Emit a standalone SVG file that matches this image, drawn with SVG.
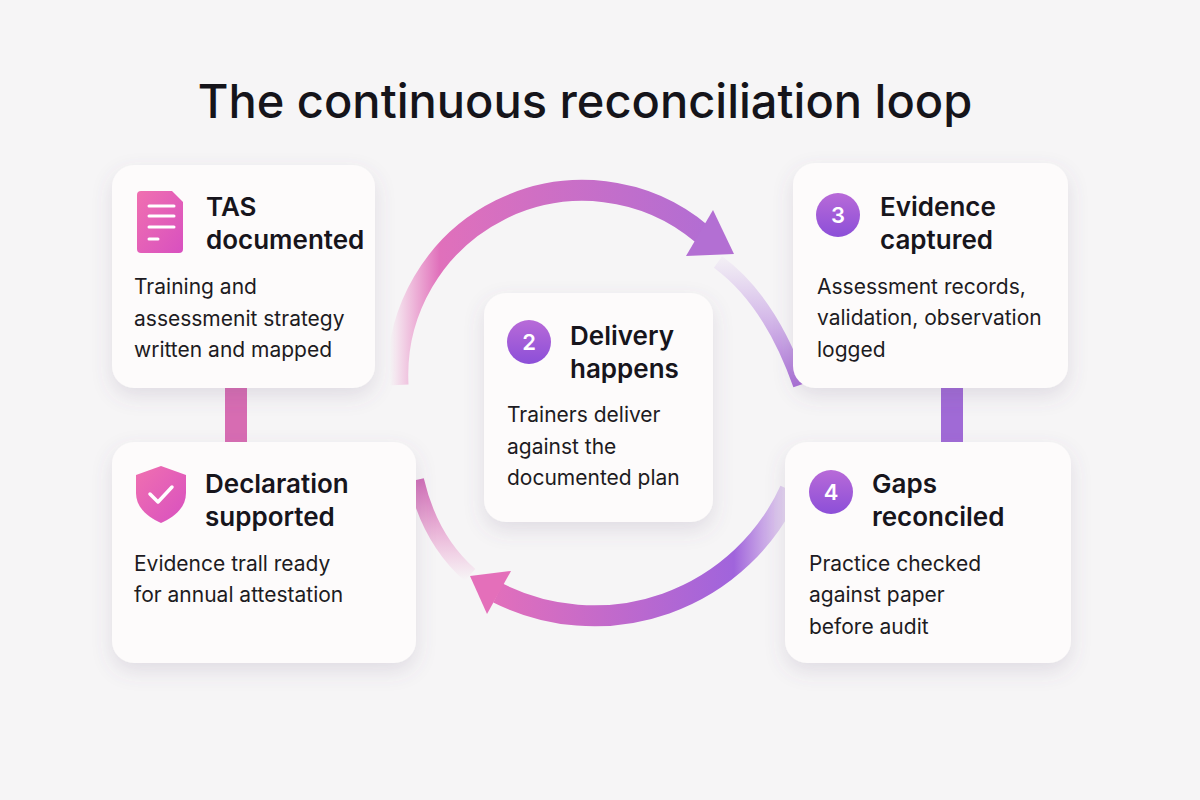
<svg xmlns="http://www.w3.org/2000/svg" width="1200" height="800" viewBox="0 0 1200 800">
<defs>
<style>
.card{fill:#fdfbfb;filter:url(#sh)}
.h{font-family:Inter,"Noto Sans",sans-serif;font-weight:600;font-size:26px;fill:#17151c}
.b{font-family:Inter,"Noto Sans",sans-serif;font-size:21px;fill:#1d1b22}
.n{font-family:Inter,"Noto Sans",sans-serif;font-weight:600;font-size:22px;fill:#fff;text-anchor:middle}
</style>
<filter id="sh" x="-20%" y="-20%" width="140%" height="150%"><feDropShadow dx="0" dy="8" stdDeviation="10" flood-color="#6a5a80" flood-opacity="0.16"/></filter>
<linearGradient id="gTop" x1="390" y1="0" x2="720" y2="0" gradientUnits="userSpaceOnUse"><stop offset="0" stop-color="#e870b8" stop-opacity="0"/><stop offset="0.15" stop-color="#e070bb"/><stop offset="1" stop-color="#b06dd4"/></linearGradient>
<linearGradient id="gBot" x1="800" y1="0" x2="470" y2="0" gradientUnits="userSpaceOnUse"><stop offset="0" stop-color="#a86bd6" stop-opacity="0"/><stop offset="0.2" stop-color="#a064dc"/><stop offset="1" stop-color="#e870b8"/></linearGradient>
<linearGradient id="gR" x1="0" y1="250" x2="0" y2="390" gradientUnits="userSpaceOnUse"><stop offset="0" stop-color="#b98ae0" stop-opacity="0"/><stop offset="1" stop-color="#a86bd6"/></linearGradient>
<linearGradient id="gL" x1="0" y1="480" x2="0" y2="580" gradientUnits="userSpaceOnUse"><stop offset="0" stop-color="#d070b8"/><stop offset="1" stop-color="#e870b8" stop-opacity="0"/></linearGradient>
<linearGradient id="gNum" x1="0" y1="0" x2="0" y2="1"><stop offset="0" stop-color="#b86ad8"/><stop offset="1" stop-color="#8c4fd8"/></linearGradient>
<linearGradient id="gPink" x1="0" y1="0" x2="1" y2="1"><stop offset="0" stop-color="#f070b0"/><stop offset="1" stop-color="#d850c0"/></linearGradient>
</defs>
<rect width="1200" height="800" fill="#f6f5f6"/>
<text x="585" y="118" text-anchor="middle" style="font-family:Inter,'Noto Sans',sans-serif;font-weight:500;font-size:47px;fill:#15141a">The continuous reconciliation loop</text>

<g id="connectors">
<path d="M398 385 A185 185 0 0 1 702 234" fill="none" stroke="url(#gTop)" stroke-width="21"/>
<polygon points="734,254 686,256 713,210" fill="#b36fd3"/>
<path d="M718 262 Q770 300 800 385" fill="none" stroke="url(#gR)" stroke-width="14"/>
<path d="M790 490 A215 215 0 0 1 498 593" fill="none" stroke="url(#gBot)" stroke-width="21"/>
<polygon points="470,576 511,571 487,614" fill="#e46fba"/>
<path d="M416 480 Q430 540 470 575" fill="none" stroke="url(#gL)" stroke-width="16"/>
<rect x="225" y="386" width="22" height="58" fill="#d76cb2"/>
<rect x="941" y="386" width="22" height="58" fill="#a06ad6"/>
</g>

<g id="node1">
<rect class="card" x="112" y="165" width="263" height="223" rx="22"/>
<path d="M141 191 h31 l11 11 v47 a4 4 0 0 1 -4 4 h-38 a4 4 0 0 1 -4 -4 v-54 a4 4 0 0 1 4 -4z" fill="url(#gPink)"/>
<g stroke="#fff" stroke-width="3" stroke-linecap="round"><line x1="149" y1="206" x2="174" y2="206"/><line x1="149" y1="216" x2="174" y2="216"/><line x1="149" y1="227" x2="174" y2="227"/><line x1="149" y1="239" x2="158" y2="239"/></g>
<text class="h" x="206" y="216">TAS</text>
<text class="h" x="206" y="249">documented</text>
<text class="b" x="134" y="294">Training and</text>
<text class="b" x="134" y="326">assessmenit strategy</text>
<text class="b" x="134" y="357">written and mapped</text>
</g>

<g id="node2">
<rect class="card" x="484" y="293" width="229" height="229" rx="22"/>
<circle cx="529" cy="342" r="22" fill="url(#gNum)"/>
<text class="n" x="529" y="350">2</text>
<text class="h" x="570" y="345">Delivery</text>
<text class="h" x="570" y="378">happens</text>
<text class="b" x="507" y="422">Trainers deliver</text>
<text class="b" x="507" y="454">against the</text>
<text class="b" x="507" y="485">documented plan</text>
</g>

<g id="node3">
<rect class="card" x="793" y="163" width="275" height="225" rx="22"/>
<circle cx="838" cy="215" r="22" fill="url(#gNum)"/>
<text class="n" x="838" y="223">3</text>
<text class="h" x="880" y="216">Evidence</text>
<text class="h" x="880" y="249">captured</text>
<text class="b" x="817" y="294">Assessment records,</text>
<text class="b" x="817" y="325">validation, observation</text>
<text class="b" x="817" y="357">logged</text>
</g>

<g id="node4">
<rect class="card" x="785" y="442" width="286" height="221" rx="22"/>
<circle cx="831" cy="492" r="22" fill="url(#gNum)"/>
<text class="n" x="831" y="500">4</text>
<text class="h" x="872" y="493">Gaps</text>
<text class="h" x="872" y="526">reconciled</text>
<text class="b" x="809" y="571">Practice checked</text>
<text class="b" x="809" y="602">against paper</text>
<text class="b" x="809" y="634">before audit</text>
</g>

<g id="node5">
<rect class="card" x="112" y="442" width="304" height="221" rx="22"/>
<path d="M161 466 l25 9 v18 c0 14 -11 24 -25 30 c-14 -6 -25 -16 -25 -30 v-18z" fill="url(#gPink)"/>
<polyline points="150,494 158,502 172,487" fill="none" stroke="#fff" stroke-width="3.5" stroke-linecap="round" stroke-linejoin="round"/>
<text class="h" x="205" y="493">Declaration</text>
<text class="h" x="205" y="526">supported</text>
<text class="b" x="134" y="571">Evidence trall ready</text>
<text class="b" x="134" y="602">for annual attestation</text>
</g>
</svg>
